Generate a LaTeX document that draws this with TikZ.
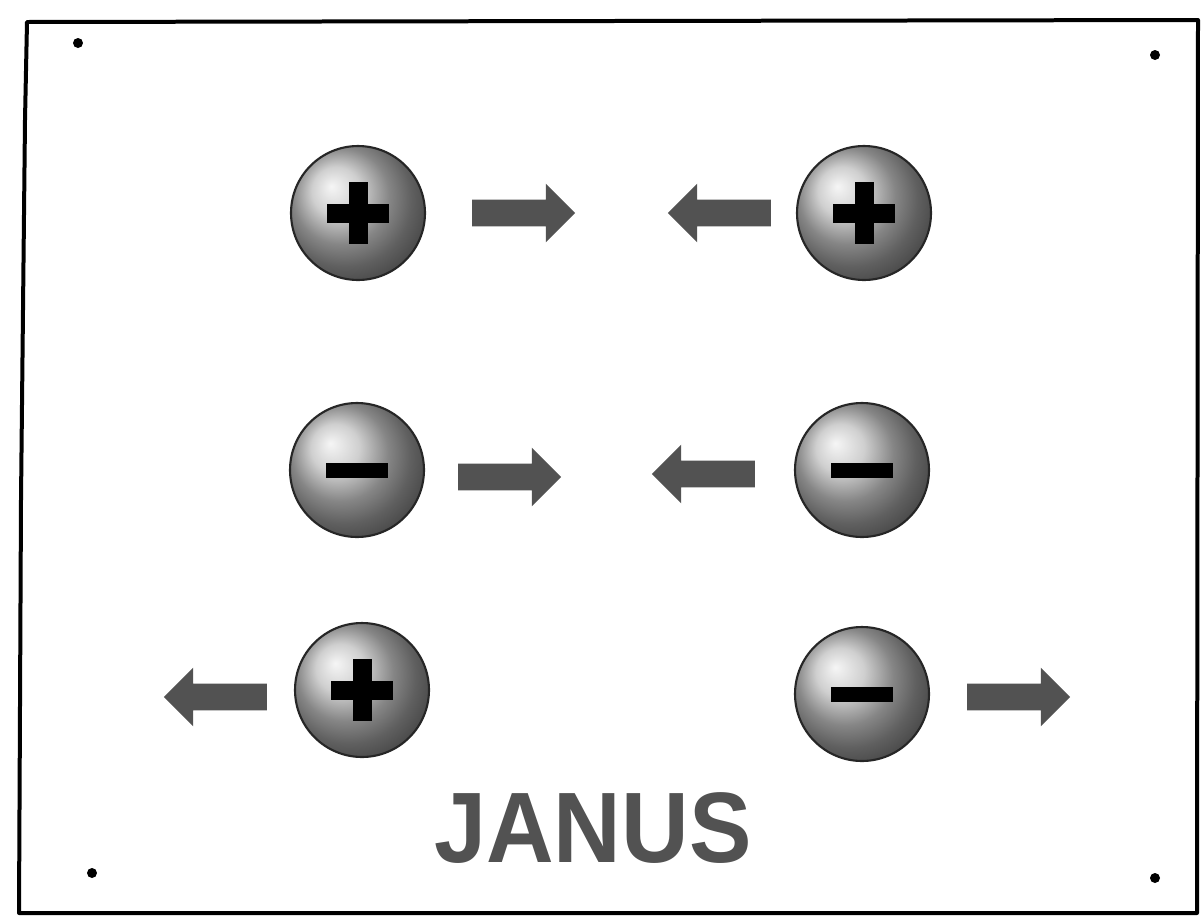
\documentclass[tikz,border=0pt]{standalone}
\usepackage{fontspec}
\setmainfont{Liberation Sans}
\usetikzlibrary{shapes.arrows}

\begin{document}
\begin{tikzpicture}[x=0.02cm, y=-0.02cm,
  ball/.style={circle, draw=black!85, line width=1.2pt, ball color=gray!50, minimum size=2.68cm, inner sep=0pt},
  sign/.style={line width=0.38cm},
  blockarrow/.style={single arrow, fill=black!68, draw=none, minimum height=2.06cm, single arrow head extend=0.32cm, single arrow head indent=0pt, inner xsep=0pt, inner ysep=0.26cm},
  dot/.style={circle, fill=black, inner sep=0pt, minimum size=0.2cm}]
\useasboundingbox (0,0) rectangle (1204,920);
% frame and pins
\draw[line width=0.08cm, line join=round] (27,22) -- (1198,20) -- (1197,913) -- (19,913) -- (21,500) -- (25,120) -- cycle;
\node[dot] (pinA) at (78,43) {};
\node[dot] (pinB) at (1155,55) {};
\node[dot] (pinC) at (92,873) {};
\node[dot] (pinD) at (1155,878) {};

% top row: + and +
\node[ball] (p1) at (358,213) {};
\node[ball] (p2) at (864,213) {};
\node[blockarrow] (a1) at (517,213) {};
\node[blockarrow, shape border rotate=180] (a2) at (726,213) {};

% middle row: - and -
\node[ball] (m1) at (357,470) {};
\node[ball] (m2) at (862,470) {};
\node[blockarrow] (a3) at (503,477) {};
\node[blockarrow, shape border rotate=180] (a4) at (710,474) {};

% bottom row: + and -
\node[ball] (p3) at (362,690) {};
\node[ball] (m3) at (862,694) {};
\node[blockarrow, shape border rotate=180] (a5) at (222,697) {};
\node[blockarrow] (a6) at (1012,697) {};

% signs
\foreach \b in {p1,p2,p3} {
  \draw[sign] (\b.center) ++(-31,0) -- ++(62,0);
  \draw[sign] (\b.center) ++(0,-31) -- ++(0,62);
}
\foreach \b in {m1,m2,m3}
  \draw[sign, line width=0.3cm] (\b.center) ++(-31,0) -- ++(62,0);

\node[text=black!68, font=\fontsize{57}{60}\selectfont\bfseries, anchor=base, inner sep=0pt] (title) at (593,862) {\scalebox{0.935}[1]{JANUS}};
\end{tikzpicture}
\end{document}
